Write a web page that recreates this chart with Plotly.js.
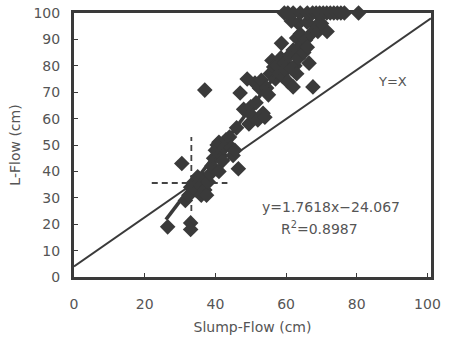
<!DOCTYPE html>
<html>
<head>
<meta charset="utf-8">
<script src="https://cdn.plot.ly/plotly-3.0.1.min.js"></script>
<style>html,body{margin:0;padding:0;background:#fff;}#chart{width:449px;height:342px;}</style>
</head>
<body>
<div id="chart"></div>
<script>
// Measured points (Slump-Flow, L-Flow), cm
const slumpFlow = [
  26.5, 30.5, 33, 33, 31.5, 32.5, 33, 34, 34.5, 35, 35.5, 36, 36.5, 37, 37.5, 38, 38.5, 37,
  39, 39.5, 40, 40.5, 41, 41, 41.5, 42, 42.5, 43, 44, 44.5, 45, 45.5, 46.5, 46,
  47, 48, 49, 49.5, 50, 50.5, 51.2, 51.5, 52, 52.5, 53, 53.5, 54, 54.5, 55, 55.5,
  56, 56.5, 57, 57.5, 58, 58.5, 58.7, 59, 59.5, 60, 60.5, 61, 61.5, 62, 62, 62.5,
  63, 63.5, 63, 64, 64.5, 65, 65.5, 66, 66.5, 67, 67.6, 68.5, 69, 71.6, 70, 63.5, 61.5, 66,
  59.5, 60.5, 62, 64, 66, 67.5, 68.5, 69.5, 70.5, 71.5, 72.5, 73.5, 74.5, 75.5, 76.5, 80.5
];
const lFlow = [
  19, 43, 20.5, 18, 29, 31, 34, 36, 33, 38, 35, 31, 37, 33, 31, 36, 39, 70.8,
  42, 45, 48, 50, 51, 40, 46, 44, 49, 52, 53, 49, 46, 48, 41, 56.5,
  69.7, 63.5, 75, 58, 64.5, 61, 73.5, 66, 59.5, 71.5, 74.5, 62, 60.5, 71.6, 69, 77,
  82, 79.5, 75, 80, 77, 83, 88.5, 76, 81, 78.5, 74, 84, 79, 72, 86, 80,
  77, 83, 90.5, 92, 88, 85, 89.8, 87, 81, 92, 72, 95, 93, 93, 96, 96, 97, 96.5,
  100, 100, 100, 100, 100, 100, 100, 100, 100, 100, 100, 100, 100, 100, 100, 100
];
// Reference line (drawn as in the figure) and regression fit
const refLineX = [0, 101];
const refLineY = [4, 98];
const fitSlope = 1.7618;
const fitIntercept = -24.067;
const fitRangeX = [26, 70.4];
const fitY = fitRangeX.map(x => fitSlope * x + fitIntercept);
// Dashed cross-hair
const crossVX = [33.2, 33.2];
const crossVY = [25, 53];
const crossHX = [22, 43.4];
const crossHY = [35.6, 35.6];
const xTicks = [0, 20, 40, 60, 80, 100];
const yTicks = [0, 10, 20, 30, 40, 50, 60, 70, 80, 90, 100];

const dark = '#3a3a3a';
const txt = '#555';
const traces = [
  {x: refLineX, y: refLineY, mode: 'lines', line: {color: dark, width: 2}, hoverinfo: 'skip'},
  {x: crossVX, y: crossVY, mode: 'lines', line: {color: '#444', width: 1.8, dash: '6px,4px'}},
  {x: crossHX, y: crossHY, mode: 'lines', line: {color: '#444', width: 1.8, dash: '6px,4px'}},
  {x: slumpFlow, y: lFlow, mode: 'markers', cliponaxis: false,
   marker: {symbol: 'diamond', size: 12, color: dark, line: {width: 0}}},
  {x: fitRangeX, y: fitY, mode: 'lines', line: {color: dark, width: 3.5}}
];
const layout = {
  width: 449, height: 342,
  margin: {l: 74, r: 18, t: 13, b: 65},
  showlegend: false,
  paper_bgcolor: '#fff', plot_bgcolor: '#fff',
  font: {family: 'DejaVu Sans, sans-serif', size: 14, color: txt},
  xaxis: {
    range: [0, 101], tickvals: xTicks, ticktext: xTicks.map(String),
    showgrid: false, zeroline: false,
    showline: true, mirror: true, linecolor: dark, linewidth: 3,
    ticks: 'inside', ticklen: 4, tickcolor: dark,
    ticklabelstandoff: 12,
    title: {text: 'Slump-Flow (cm)', font: {size: 14, color: txt}, standoff: 12}
  },
  yaxis: {
    range: [0, 100], tickvals: yTicks, ticktext: yTicks.map(String),
    showgrid: false, zeroline: false,
    showline: true, mirror: true, linecolor: dark, linewidth: 3,
    ticks: 'inside', ticklen: 4, tickcolor: dark,
    ticklabelstandoff: 8,
    title: {text: 'L-Flow (cm)', font: {size: 14, color: txt}, standoff: 10}
  },
  annotations: [
    {x: 90, y: 74.2, xref: 'x', yref: 'y', text: 'Y=X', showarrow: false, font: {size: 13, color: txt}},
    {x: 72.8, y: 26.5, xref: 'x', yref: 'y', text: 'y=1.7618x\u221224.067', showarrow: false, font: {size: 14, color: txt}},
    {x: 69.4, y: 18.6, xref: 'x', yref: 'y', text: 'R<sup>2</sup>=0.8987', showarrow: false, font: {size: 14, color: txt}}
  ]
};
Plotly.newPlot('chart', traces, layout, {staticPlot: true, displayModeBar: false});
</script>
</body>
</html>
